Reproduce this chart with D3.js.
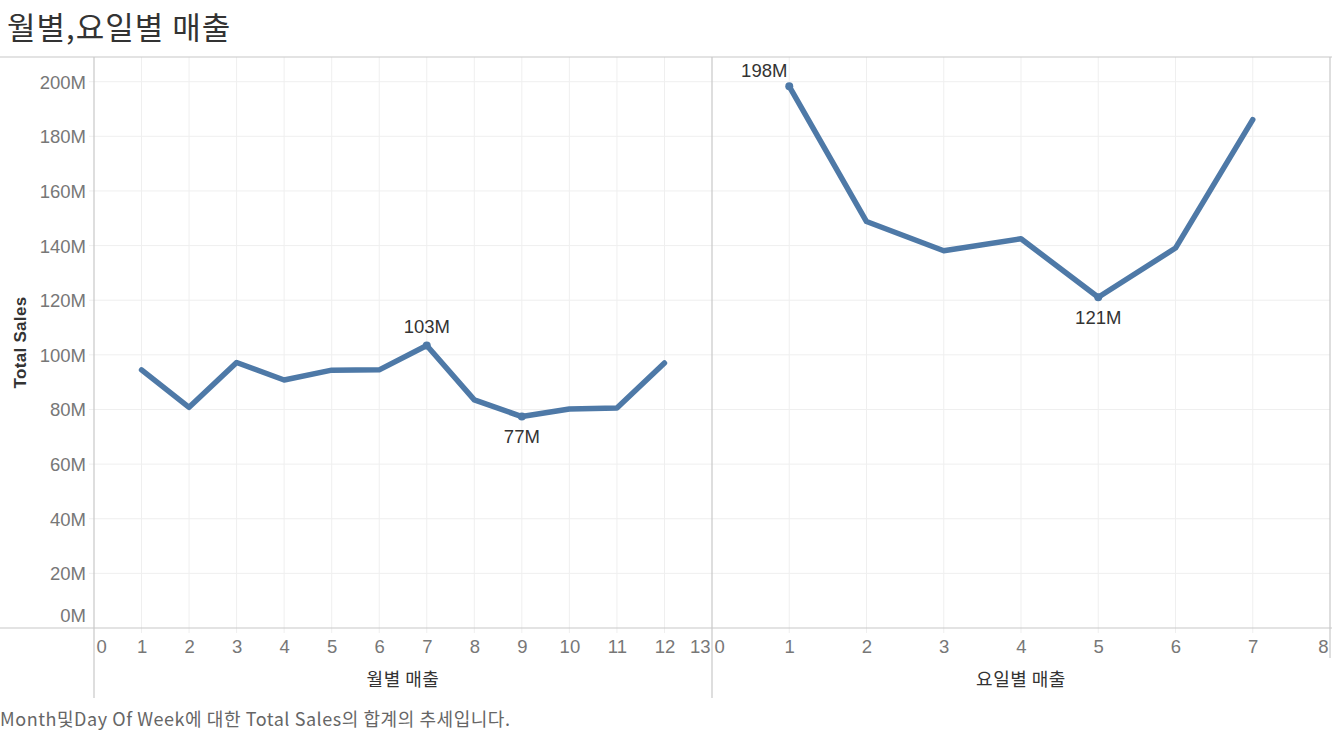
<!DOCTYPE html>
<html>
<head>
<meta charset="utf-8">
<script src="https://cdn.jsdelivr.net/npm/d3@7"></script>
<style>
  body { margin: 0; background: #fff; }
  svg { display: block; }
  .tick text { font-family: "Liberation Sans", Arial, sans-serif; }
</style>
</head>
<body>
<div id="chart"></div>
<script>
// data (values in millions)
var months = [1, 2, 3, 4, 5, 6, 7, 8, 9, 10, 11, 12];
var monthSales = [94.5, 80.8, 97.2, 90.8, 94.4, 94.5, 103.4, 83.5, 77.4, 80.2, 80.5, 97.0];
var weekdays = [1, 2, 3, 4, 5, 6, 7];
var weekdaySales = [198.3, 148.8, 138.1, 142.5, 121.1, 139.1, 186.1];
var yTicks = [0, 20, 40, 60, 80, 100, 120, 140, 160, 180, 200];
var monthTicks = [0, 1, 2, 3, 4, 5, 6, 7, 8, 9, 10, 11, 12, 13];
var dayTicks = [0, 1, 2, 3, 4, 5, 6, 7, 8];

var W = 1332, H = 733;
var pTop = 57, pBottom = 628, pLeft = 94, pMid = 712, pRight = 1330;
var blue = "#4e79a7";
var kfont = "'Noto Sans CJK KR', 'Noto Sans', sans-serif";

var svg = d3.select("#chart").append("svg")
    .attr("width", W)
    .attr("height", H);

var y = d3.scaleLinear().domain([0, 209.04]).range([pBottom, pTop]);
var xM = d3.scaleLinear().domain([0, 13]).range([pLeft, pMid]);
var xD = d3.scaleLinear().domain([0, 8]).range([pMid, pRight]);

// title
svg.append("text")
    .attr("x", 7).attr("y", 39)
    .style("font-family", kfont)
    .style("font-size", "31px")
    .style("letter-spacing", "1px")
    .style("fill", "#333")
    .text("월별,요일별 매출");

// horizontal gridlines
svg.append("g")
    .selectAll("line")
    .data(yTicks.filter(function(d){ return d > 0; }))
    .enter().append("line")
    .attr("x1", pLeft - 5).attr("x2", pRight)
    .attr("y1", function(d){ return y(d); })
    .attr("y2", function(d){ return y(d); })
    .style("stroke", "#efefef");

// vertical gridlines
function vgrid(scale, ticks) {
    svg.append("g")
        .selectAll("line")
        .data(ticks.slice(1, -1))
        .enter().append("line")
        .attr("x1", function(d){ return scale(d); })
        .attr("x2", function(d){ return scale(d); })
        .attr("y1", pTop).attr("y2", pBottom + 5)
        .style("stroke", "#efefef");
}
vgrid(xM, monthTicks);
vgrid(xD, dayTicks);

// frame lines
var frame = svg.append("g").style("stroke", "#c8c8c8").style("stroke-width", 1.2);
frame.append("line").attr("x1", 0).attr("x2", W).attr("y1", pTop).attr("y2", pTop);
frame.append("line").attr("x1", 0).attr("x2", W).attr("y1", pBottom).attr("y2", pBottom);
frame.append("line").attr("x1", pLeft).attr("x2", pLeft).attr("y1", pTop).attr("y2", 698);
frame.append("line").attr("x1", pMid).attr("x2", pMid).attr("y1", pTop).attr("y2", 698);
frame.append("line").attr("x1", pRight).attr("x2", pRight).attr("y1", pTop).attr("y2", 658);

// y axis
var yAxis = svg.append("g")
    .attr("transform", "translate(" + pLeft + ",0)")
    .call(d3.axisLeft(y).tickValues(yTicks).tickSize(0).tickPadding(8)
        .tickFormat(function(d){ return d + "M"; }));
yAxis.select(".domain").remove();
yAxis.selectAll("text")
    .style("font-size", "18.5px")
    .style("fill", "#777")
    .attr("dy", function(d){ return d === 0 ? "-0.35em" : "0.35em"; });

svg.append("text")
    .attr("transform", "translate(26," + ((pTop + pBottom) / 2) + ") rotate(-90)")
    .attr("text-anchor", "middle")
    .style("font-family", "'Liberation Sans', Arial, sans-serif")
    .style("font-size", "17px")
    .style("font-weight", "bold")
    .style("letter-spacing", "0.3px")
    .style("fill", "#333")
    .text("Total Sales");

// x axes
function xaxis(scale, ticks, title) {
    var g = svg.append("g")
        .attr("transform", "translate(0," + pBottom + ")")
        .call(d3.axisBottom(scale).tickValues(ticks).tickSize(0).tickPadding(12));
    g.select(".domain").remove();
    g.selectAll("text")
        .style("font-size", "18.5px")
        .style("fill", "#777")
        .attr("text-anchor", function(d, i){
            if (i === 0) return "start";
            if (i === ticks.length - 1) return "end";
            return "middle";
        })
        .attr("x", function(d, i){
            if (i === 0) return 2;
            if (i === ticks.length - 1) return -2;
            return 0;
        });
    var r = scale.range();
    svg.append("text")
        .attr("x", (r[0] + r[1]) / 2).attr("y", 686)
        .attr("text-anchor", "middle")
        .style("font-family", kfont)
        .style("font-size", "18px")
        .style("letter-spacing", "0.5px")
        .style("fill", "#333")
        .text(title);
}
xaxis(xM, monthTicks, "월별 매출");
xaxis(xD, dayTicks, "요일별 매출");

// lines
function series(xs, vals, scale, labels) {
    var pts = xs.map(function(d, i){ return [scale(d), y(vals[i])]; });
    svg.append("path")
        .attr("d", d3.line()(pts))
        .style("fill", "none")
        .style("stroke", blue)
        .style("stroke-width", 5.5)
        .style("stroke-linecap", "round")
        .style("stroke-linejoin", "round");
    labels.forEach(function(l){
        var i = l.i;
        svg.append("circle")
            .attr("cx", pts[i][0]).attr("cy", pts[i][1]).attr("r", 4)
            .style("fill", blue);
        svg.append("text")
            .attr("x", pts[i][0] + l.dx).attr("y", pts[i][1] + l.dy)
            .attr("text-anchor", "middle")
            .style("font-family", "'Liberation Sans', Arial, sans-serif")
            .style("font-size", "18.5px")
            .style("fill", "#333")
            .text(Math.round(vals[i]) + "M");
    });
}
series(months, monthSales, xM, [{i: 6, dx: 0, dy: -13}, {i: 8, dx: 0, dy: 26}]);
series(weekdays, weekdaySales, xD, [{i: 0, dx: -25, dy: -9}, {i: 4, dx: 0, dy: 27}]);

// footer
svg.append("text")
    .attr("x", 0).attr("y", 726)
    .style("font-family", kfont)
    .style("font-size", "18px")
    .style("fill", "#666")
    .attr("textLength", 510)
    .attr("lengthAdjust", "spacing")
    .text("Month및Day Of Week에 대한 Total Sales의 합계의 추세입니다.");
</script>
</body>
</html>
